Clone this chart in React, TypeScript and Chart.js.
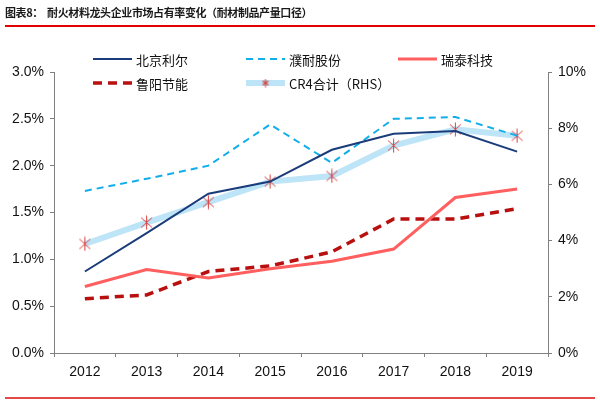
import React, { useEffect, useRef } from "react";
import { Chart, registerables } from "chart.js";

Chart.register(...registerables);

const years = ["2012", "2013", "2014", "2015", "2016", "2017", "2018", "2019"];
const beijingLier = [0.87, 1.28, 1.7, 1.83, 2.17, 2.34, 2.37, 2.15];
const punaiGufen = [1.73, 1.86, 2.0, 2.44, 2.03, 2.5, 2.52, 2.32];
const ruitaiKeji = [0.71, 0.89, 0.8, 0.9, 0.98, 1.11, 1.66, 1.75];
const luyangJieneng = [0.58, 0.62, 0.87, 0.93, 1.08, 1.43, 1.43, 1.54];
const cr4Total = [3.88, 4.64, 5.37, 6.1, 6.3, 7.38, 7.96, 7.73];

const leftTicks = [0, 0.5, 1.0, 1.5, 2.0, 2.5, 3.0];
const rightTicks = [0, 2, 4, 6, 8, 10];

const titleText = "图表8：  耐火材料龙头企业市场占有率变化（耐材制品产量口径）";

const C_DARKBLUE = "#1B3C7A";
const C_LIGHTBLUE = "#12AEEA";
const C_RED = "#FF5F5F";
const C_DARKRED = "#B80F0F";
const C_CR4 = "#BEE5F7";
const C_MARK = "#D9403F";

const AXIS_FONT = '"Liberation Sans", Arial, sans-serif';

function makeStar(w: number, h: number, lw: number): HTMLCanvasElement {
  const c = document.createElement("canvas");
  c.width = w;
  c.height = h;
  const ctx = c.getContext("2d")!;
  ctx.strokeStyle = C_MARK;
  ctx.lineWidth = lw;
  const m = 1;
  ctx.beginPath();
  ctx.moveTo(m, m + 1.5);
  ctx.lineTo(w - m, h - m - 1.5);
  ctx.moveTo(w - m, m + 1.5);
  ctx.lineTo(m, h - m - 1.5);
  ctx.moveTo(w / 2, 0.5);
  ctx.lineTo(w / 2, h - 0.5);
  ctx.stroke();
  return c;
}

const legendItems = [
  { label: "北京利尔", color: C_DARKBLUE, width: 2, dash: [] as number[], x: 93, y: 59, star: false },
  { label: "濮耐股份", color: C_LIGHTBLUE, width: 2, dash: [7, 5], x: 246, y: 59, star: false },
  { label: "瑞泰科技", color: C_RED, width: 3, dash: [] as number[], x: 398, y: 59, star: false },
  { label: "鲁阳节能", color: C_DARKRED, width: 3.5, dash: [9, 6], x: 93, y: 83, star: false },
  { label: "CR4合计（RHS）", color: C_CR4, width: 6, dash: [] as number[], x: 246, y: 83, star: true },
];

export default function App() {
  const ref = useRef<HTMLCanvasElement | null>(null);

  useEffect(() => {
    if (!ref.current) return;
    const star = makeStar(13, 15, 1);
    const legendStar = makeStar(8, 9, 1.2);
    const legendPlugin = {
      id: "customLegend",
      afterDraw(chart: any) {
        const ctx = chart.ctx;
        ctx.save();
        for (const it of legendItems) {
          ctx.beginPath();
          ctx.strokeStyle = it.color;
          ctx.lineWidth = it.width;
          ctx.setLineDash(it.dash);
          ctx.moveTo(it.x, it.y);
          ctx.lineTo(it.x + 39, it.y);
          ctx.stroke();
          ctx.setLineDash([]);
          if (it.star) {
            ctx.drawImage(legendStar, it.x + 19.5 - 4, it.y - 4.5);
          }
          ctx.fillStyle = "#111";
          ctx.font = '13px "Noto Sans CJK SC", "Liberation Sans", sans-serif';
          ctx.textBaseline = "middle";
          ctx.textAlign = "left";
          ctx.fillText(it.label, it.x + 43, it.y + 1);
        }
        ctx.restore();
      },
    };

    const chart = new Chart(ref.current, {
      type: "line",
      data: {
        labels: years,
        datasets: [
          {
            label: "北京利尔",
            data: beijingLier,
            borderColor: C_DARKBLUE,
            borderWidth: 2,
            pointRadius: 0,
            yAxisID: "y",
            order: 1,
          },
          {
            label: "濮耐股份",
            data: punaiGufen,
            borderColor: C_LIGHTBLUE,
            borderWidth: 2,
            borderDash: [7, 5],
            pointRadius: 0,
            yAxisID: "y",
            order: 2,
          },
          {
            label: "瑞泰科技",
            data: ruitaiKeji,
            borderColor: C_RED,
            borderWidth: 3,
            pointRadius: 0,
            yAxisID: "y",
            order: 3,
          },
          {
            label: "鲁阳节能",
            data: luyangJieneng,
            borderColor: C_DARKRED,
            borderWidth: 3.5,
            borderDash: [9, 6],
            pointRadius: 0,
            yAxisID: "y",
            order: 4,
          },
          {
            label: "CR4合计（RHS）",
            data: cr4Total,
            borderColor: C_CR4,
            borderWidth: 6,
            pointRadius: 6,
            pointStyle: star as any,
            yAxisID: "y1",
            order: 5,
          },
        ],
      },
      options: {
        responsive: false,
        animation: false,
        events: [],
        layout: { padding: { top: 72, left: 0, right: 0, bottom: 0 } },
        plugins: { legend: { display: false }, tooltip: { enabled: false } },
        scales: {
          x: {
            offset: true,
            grid: {
              offset: true,
              drawOnChartArea: false,
              drawTicks: true,
              tickLength: 4,
              color: "#808080",
            },
            border: { color: "#808080", width: 1 },
            ticks: {
              color: "#111",
              font: { family: AXIS_FONT, size: 14 },
              padding: 7,
              maxRotation: 0,
            },
            afterFit(scale: any) {
              scale.height = 47;
            },
          },
          y: {
            position: "left",
            min: 0,
            max: 3,
            afterBuildTicks(scale: any) {
              scale.ticks = leftTicks.map((v) => ({ value: v }));
            },
            grid: { drawOnChartArea: false, tickLength: 4, color: "#808080" },
            border: { color: "#808080", width: 1 },
            ticks: {
              color: "#111",
              font: { family: AXIS_FONT, size: 14 },
              padding: 6,
              callback: (v: any) => Number(v).toFixed(1) + "%",
            },
            afterFit(scale: any) {
              scale.width = 54;
            },
          },
          y1: {
            position: "right",
            min: 0,
            max: 10,
            afterBuildTicks(scale: any) {
              scale.ticks = rightTicks.map((v) => ({ value: v }));
            },
            grid: { drawOnChartArea: false, tickLength: 4, color: "#808080" },
            border: { color: "#808080", width: 1 },
            ticks: {
              color: "#111",
              font: { family: AXIS_FONT, size: 14 },
              padding: 6,
              callback: (v: any) => Number(v).toFixed(0) + "%",
            },
            afterFit(scale: any) {
              scale.width = 52;
            },
          },
        },
      },
      plugins: [legendPlugin],
    });
    return () => chart.destroy();
  }, []);

  return (
    <div style={{ position: "absolute", left: 0, top: 0, width: 600, height: 400, background: "#fff" }}>
      <canvas ref={ref} width={600} height={400} style={{ position: "absolute", left: 0, top: 0 }} />
      <div
        style={{
          position: "absolute",
          left: 5,
          top: 4,
          fontFamily: '"Noto Sans CJK SC", sans-serif',
          fontWeight: 700,
          fontSize: 11,
          letterSpacing: -0.4,
          color: "#1a1a1a",
          whiteSpace: "pre",
          lineHeight: "16px",
        }}
      >
        {titleText}
      </div>
      <div style={{ position: "absolute", left: 5, top: 25, width: 590, height: 2, background: "#E30000" }} />
      <div style={{ position: "absolute", left: 5, top: 397, width: 590, height: 2, background: "#E24A4A" }} />
    </div>
  );
}
